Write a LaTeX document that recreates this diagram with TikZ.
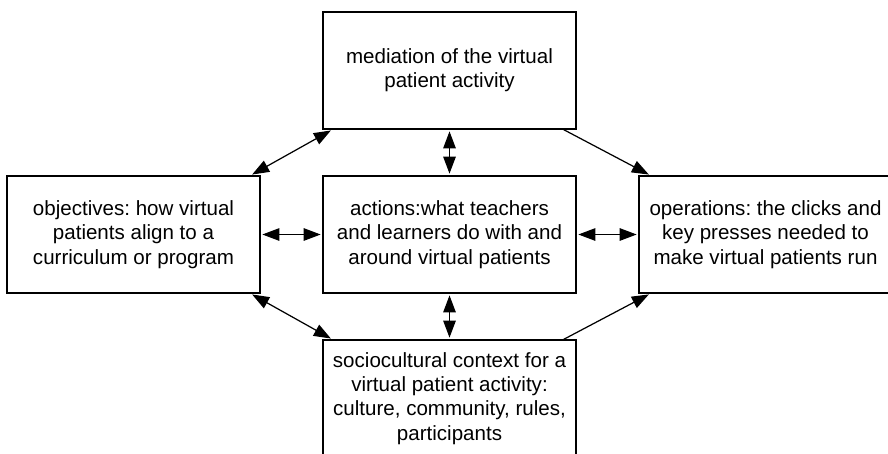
\documentclass[tikz,border=0pt]{standalone}
\usepackage{fontspec}
\setmainfont{Liberation Sans}
\usetikzlibrary{arrows.meta}
\frenchspacing

\begin{document}
\begin{tikzpicture}[x=0.02cm, y=-0.02cm,
  box/.style={draw, line width=0.7pt, minimum width=5.06cm, minimum height=2.34cm,
    align=center, font=\fontsize{11.7}{13.8}\selectfont},
  link/.style={line width=0.7pt, shorten >=1pt, -{Triangle[length=0.34cm, width=0.25cm]}},
  both/.style={link, shorten <=1pt, {Triangle[length=0.34cm, width=0.25cm]}-{Triangle[length=0.34cm, width=0.25cm]}}]
  \useasboundingbox (0,0) rectangle (888,453);
  \clip (0,0) rectangle (888,453);

  \node[box] (mediation) at (449.5,70.5) {mediation of the virtual\\patient activity};
  \node[box] (objectives) at (133.5,234.5) {objectives: how virtual\\patients align to a\\curriculum or program};
  \node[box] (actions) at (449.5,234.5) {actions:what teachers\\and learners do with and\\around virtual patients};
  \node[box] (operations) at (765.5,234.5) {operations: the clicks and\\key presses needed to\\make virtual patients run};
  \node[box] (context) at (449.5,398.5) {sociocultural context for a\\virtual patient activity:\\culture, community, rules,\\participants};

  % arrows around the middle box
  \draw[both] ([xshift=0.2cm]mediation.south west) -- ([xshift=-0.2cm]objectives.north east);
  \draw[both] (mediation) -- (actions);
  \draw[link] ([xshift=-0.26cm]mediation.south east) -- ([xshift=0.24cm]operations.north west);
  \draw[both] (objectives) -- (actions);
  \draw[both] (actions) -- (operations);
  \draw[both] ([xshift=-0.2cm]objectives.south east) -- ([xshift=0.2cm]context.north west);
  \draw[both] (actions) -- (context);
  \draw[link] ([xshift=-0.26cm]context.north east) -- ([xshift=0.24cm]operations.south west);
\end{tikzpicture}
\end{document}
